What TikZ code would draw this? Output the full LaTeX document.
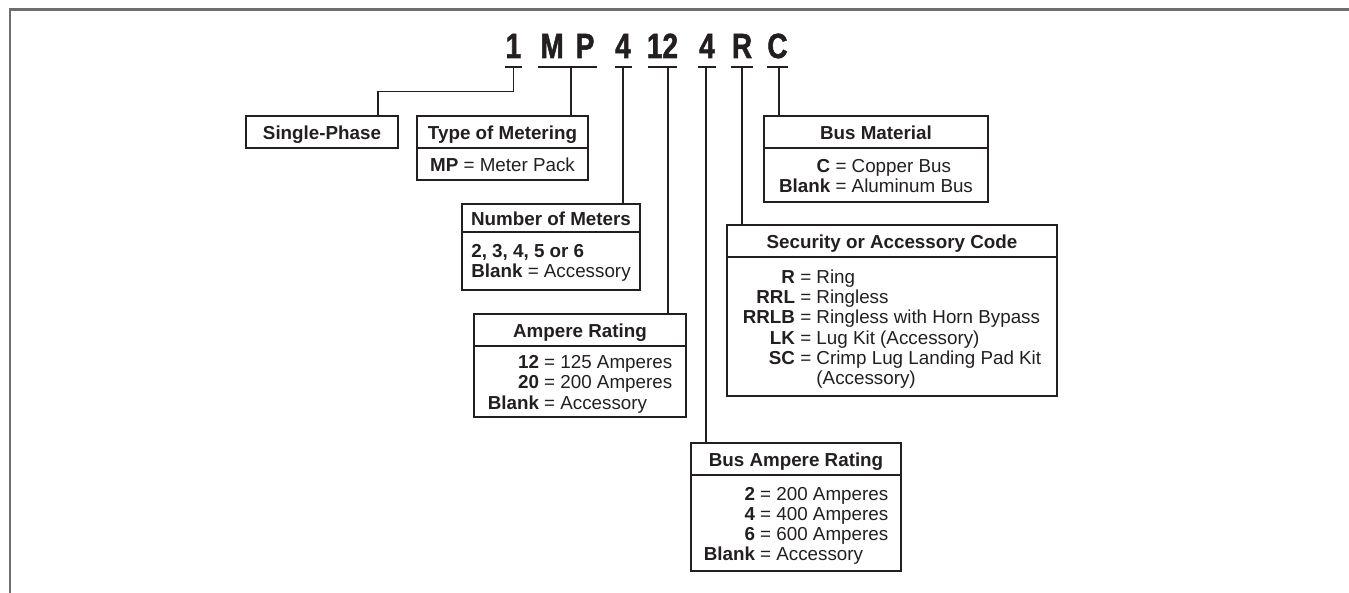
\documentclass[tikz,border=0pt]{standalone}
\usepackage{fontspec}
\setmainfont{Liberation Sans}
\newfontfamily\codefont[FakeStretch=0.8,FakeBold=1.5]{Liberation Sans}
\definecolor{ink}{HTML}{231F20}
\definecolor{framegray}{HTML}{6E6E6E}
\newcommand{\fstrut}{\rule{0pt}{21pt}}
\begin{document}
\begin{tikzpicture}[x=1pt,y=-1pt,
  every node/.style={text=ink, font=\fontsize{18.8}{20.3}\selectfont},
  hdr/.style={draw=ink, line width=1.3pt, outer sep=0pt, inner sep=0pt, minimum height=32pt, text height=14.5pt, text depth=0pt, font=\fontsize{18.8}{20.3}\selectfont\bfseries},
  bdy/.style={draw=ink, line width=1.3pt, outer sep=0pt, inner sep=0pt, anchor=north},
  uline/.style={fill=ink, inner sep=0pt, outer sep=0pt, minimum height=2.8pt},
  code/.style={font=\fontsize{34.9}{36}\codefont\bfseries, anchor=base, inner sep=0pt},
  conn/.style={draw=ink, line width=1.1pt}]
\useasboundingbox (0,0) rectangle (1349,593);
\draw[framegray, line width=2.3pt] (1349,9.5) -- (10.2,9.5) -- (10.2,593);

% catalog code
\node[code] (c1) at (513.5,58) {1};
\node[code] (cmp) at (567.5,58) {M\hspace{12pt}P};
\node[code] (c4) at (623,58) {4};
\node[code] (c12) at (662.5,58) {12};
\node[code] (c4b) at (707,58) {4};
\node[code] (cr) at (742,58) {R};
\node[code] (cc) at (777.5,58) {C};

\node[uline, minimum width=17pt] (u1) at (513.5,67) {};
\node[uline, minimum width=59pt] (ump) at (567.5,67) {};
\node[uline, minimum width=17pt] (u4) at (623,67) {};
\node[uline, minimum width=29pt] (u12) at (662.5,67) {};
\node[uline, minimum width=18pt] (u4b) at (707,67) {};
\node[uline, minimum width=22pt] (ur) at (742,67) {};
\node[uline, minimum width=21pt] (uc) at (777.5,67) {};

% boxes
\node[hdr, minimum width=152pt] (sp) at (322,132) {Single-Phase};

\node[hdr, minimum width=171pt] (tmh) at (502.5,132) {Type of Metering};
\node[bdy, minimum width=171pt, minimum height=32pt, text height=15pt, text depth=0pt] (tmb) at (tmh.south) {\textbf{MP} = Meter Pack};

\node[hdr, minimum width=178pt, minimum height=28pt] (nmh) at (551,218) {Number of Meters};
\node[bdy, minimum width=178pt, minimum height=58pt] (nmb) at (nmh.south)
  {\begin{tabular}{@{}l@{}}\rule{0pt}{18.5pt}\textbf{2, 3, 4, 5 or 6}\\\textbf{Blank} = Accessory\end{tabular}};

\node[hdr, minimum width=212pt] (arh) at (580,330) {Ampere Rating};
\node[bdy, minimum width=212pt, minimum height=71pt] (arb) at (arh.south)
  {\begin{tabular}{@{}r@{\ =\ }l@{}}\fstrut\textbf{12} & 125 Amperes\\\textbf{20} & 200 Amperes\\\textbf{Blank} & Accessory\end{tabular}};

\node[hdr, minimum width=224pt] (bmh) at (876,132) {Bus Material};
\node[bdy, minimum width=224pt, minimum height=54pt] (bmb) at (bmh.south)
  {\begin{tabular}{@{}r@{\ =\ }l@{}}\fstrut\textbf{C} & Copper Bus\\\textbf{Blank} & Aluminum Bus\end{tabular}};

\node[hdr, minimum width=330pt] (sch) at (892,241) {Security or Accessory Code};
\node[bdy, minimum width=330pt, minimum height=139pt] (scb) at (sch.south)
  {\begin{tabular}{@{}r@{\ =\ }l@{}}\fstrut\textbf{R} & Ring\\\textbf{RRL} & Ringless\\\textbf{RRLB} & Ringless with Horn Bypass\\\textbf{LK} & Lug Kit (Accessory)\\\textbf{SC} & Crimp Lug Landing Pad Kit\\\multicolumn{1}{r@{\hphantom{\ =\ }}}{} & (Accessory)\end{tabular}};

\node[hdr, minimum width=210pt] (bah) at (796,459) {Bus Ampere Rating};
\node[bdy, minimum width=210pt, minimum height=96pt] (bab) at (bah.south)
  {\begin{tabular}{@{}r@{\ =\ }l@{}}\fstrut\textbf{2} & 200 Amperes\\\textbf{4} & 400 Amperes\\\textbf{6} & 600 Amperes\\\textbf{Blank} & Accessory\end{tabular}};

% connectors
\coordinate (k1) at (378,91.7);
\draw[conn] (u1.south) |- (k1) -- (k1 |- sp.north);
\coordinate (s2) at ([xshift=3.5pt]ump.south);
\draw[conn] (s2) -- (s2 |- tmh.north);
\draw[conn] (u4.south) -- (u4.south |- nmh.north);
\coordinate (s4) at ([xshift=5.5pt]u12.south);
\draw[conn] (s4) -- (s4 |- arh.north);
\coordinate (s5) at ([xshift=-1pt]u4b.south);
\draw[conn] (s5) -- (s5 |- bah.north);
\draw[conn] (ur.south) -- (ur.south |- sch.north);
\coordinate (s7) at ([xshift=1.5pt]uc.south);
\draw[conn] (s7) -- (s7 |- bmh.north);
\end{tikzpicture}
\end{document}
